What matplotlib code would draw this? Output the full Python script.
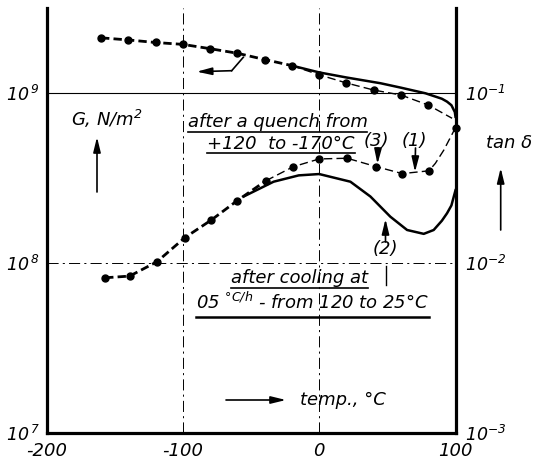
import numpy as np
import matplotlib
matplotlib.use('Agg')
import matplotlib.pyplot as plt
from matplotlib.lines import Line2D
from matplotlib.ticker import FixedLocator, NullLocator, FixedFormatter

plt.rcParams['font.family'] = ['DejaVu Sans']
plt.rcParams['font.style'] = 'italic'
plt.rcParams['mathtext.default'] = 'it'
plt.rcParams['lines.scale_dashes'] = False

# shear modulus G (N/m2), after quench (dots) - left axis
g_q_t = [-160, -140, -120, -100, -80, -60, -40, -20, 0, 20, 40, 60, 80, 97.5]
g_q = [2.12e9, 2.06e9, 1.99e9, 1.94e9, 1.83e9, 1.72e9, 1.58e9, 1.455e9,
       1.285e9, 1.15e9, 1.045e9, 9.77e8, 8.53e8, 7.13e8]
# G after slow cooling (solid)
g_c_t = [-20, 0, 20, 45, 60, 78, 90, 93.8, 97, 99.5, 100]
g_c = [1.455e9, 1.327e9, 1.239e9, 1.146e9, 1.079e9, 1.0e9, 9.29e8, 8.93e8,
       8.51e8, 7.76e8, 7.28e8]

# tan delta after quench (dots) - right axis
tq_t = [-157, -139, -119, -98.5, -79, -60, -39, -19, 0, 20.5, 42, 61, 80.5,
        85.2, 91.4, 100]
tq = [8.22e-3, 8.41e-3, 1.021e-2, 1.416e-2, 1.80e-2, 2.34e-2, 3.06e-2,
      3.70e-2, 4.11e-2, 4.15e-2, 3.70e-2, 3.37e-2, 3.50e-2, 3.87e-2,
      4.63e-2, 6.28e-2]
tq_dots = [0, 1, 2, 3, 4, 5, 6, 7, 8, 9, 10, 11, 12, 15]
# tan delta after slow cooling (solid)
tc_t = [-55, -33.4, -15, 0, 22.9, 37.6, 52.2, 64.5, 76.7, 84, 90, 93.8, 97, 100]
tc = [2.48e-2, 3.02e-2, 3.29e-2, 3.35e-2, 3.02e-2, 2.47e-2, 1.88e-2,
      1.57e-2, 1.49e-2, 1.57e-2, 1.78e-2, 1.97e-2, 2.19e-2, 2.69e-2]

W, H = 533, 461
fig = plt.figure(figsize=(W / 100, H / 100), dpi=100)
ax = fig.add_axes([46.5 / W, 1 - 433.3 / H, 409 / W, 425 / H])
ax2 = ax.twinx()

ax.set_xlim(-200, 100)
ax.set_yscale('log')
ax.set_ylim(1e7, 10 ** 9.5)
ax2.set_yscale('log')
ax2.set_ylim(1e-3, 10 ** -0.5)

for a in (ax, ax2):
    for s in a.spines.values():
        s.set_visible(False)
ax.spines['left'].set_visible(True)
ax.spines['bottom'].set_visible(True)
ax2.spines['right'].set_visible(True)
ax.spines['left'].set_linewidth(2.3)
ax.spines['bottom'].set_linewidth(2.3)
ax2.spines['right'].set_linewidth(2.3)

ax.xaxis.set_major_locator(FixedLocator([-200, -100, 0, 100]))
ax.xaxis.set_major_formatter(FixedFormatter(['-200', '-100', '0', '100']))
ax.yaxis.set_major_locator(FixedLocator([1e7, 1e8, 1e9]))
ax.yaxis.set_major_formatter(FixedFormatter([r'$10^{\,7}$', r'$10^{\,8}$', r'$10^{\,9}$']))
ax2.yaxis.set_major_locator(FixedLocator([1e-3, 1e-2, 1e-1]))
ax2.yaxis.set_major_formatter(FixedFormatter([r'$10^{-3}$', r'$10^{-2}$', r'$10^{-1}$']))
ax.yaxis.set_minor_locator(NullLocator())
ax2.yaxis.set_minor_locator(NullLocator())
ax.tick_params(axis='x', length=0, labelsize=13, pad=6)
ax.tick_params(axis='y', length=0, labelsize=12.5, pad=5)
ax2.tick_params(axis='y', length=0, labelsize=12.5, pad=7)

# reference lines
ax.axhline(1e9, color='k', lw=0.8, zorder=1)
ax.axhline(1e8, color='k', lw=0.7, ls=(0, (8, 3, 1.5, 3)), zorder=1)
ax.axvline(-100, color='k', lw=0.7, ls=(0, (8, 3, 1.5, 3)), zorder=1)
ax.axvline(0, color='k', lw=0.7, ls=(0, (8, 3, 1.5, 3)), zorder=1)

# G curves
ax.plot(g_q_t[:8], g_q[:8], color='k', lw=2.0, dashes=(6, 3))
ax.plot(g_q_t[7:], g_q[7:], color='k', lw=1.0, dashes=(6, 3))
ax.plot(g_q_t[:13], g_q[:13], 'o', color='k', ms=5)
ax.plot(g_c_t, g_c, color='k', lw=1.8)

# tan delta curves
ax2.plot(tq_t[:7], tq[:7], color='k', lw=2.0, dashes=(6, 3))
ax2.plot(tq_t[6:], tq[6:], color='k', lw=1.0, dashes=(6, 3))
ax2.plot([tq_t[i] for i in tq_dots], [tq[i] for i in tq_dots], 'o', color='k',
         ms=5, clip_on=False, zorder=5)
ax2.plot(tc_t, tc, color='k', lw=1.8)


def fp(x, y):
    return (x / W, 1 - y / H)


def label(s, x, y, under=None, lw=1.2, size=13):
    t = fig.text(*fp(x, y), s, ha='center', va='baseline', fontsize=size,
                 style='italic', zorder=6)
    if under is not None:
        fig.canvas.draw()
        bb = t.get_window_extent(renderer=fig.canvas.get_renderer())
        fig.add_artist(Line2D([bb.x0 / W, bb.x1 / W], [1 - under / H] * 2,
                              color='k', lw=lw, transform=fig.transFigure))
    return t


def arrow(x0, y0, x1, y1):
    ax.annotate('', xy=fp(x1, y1), xytext=fp(x0, y0),
                xycoords='figure fraction', textcoords='figure fraction',
                arrowprops=dict(arrowstyle='-|>,head_width=0.22,head_length=0.9',
                                color='k', lw=1.2, shrinkA=0, shrinkB=0))


label('after a quench from', 277.5, 127, under=131.5)
label('+120  to -170°C', 281, 148.5, under=153)
label('(3)', 376, 146)
label('(1)', 414, 146)
label(r'G, N/m$^2$', 107, 126)
label('tan δ', 509, 148)
label('(2)', 385, 254)
label('after cooling at', 299, 283, under=288)
label(r'05 $^{°C/h}$ - from 120 to 25°C', 312.5, 309, under=317, lw=1.8)
label('temp., °C', 343, 405)

arrow(97, 192, 97, 137)
arrow(500.7, 230, 500.7, 168)
arrow(226, 400, 286, 400)
arrow(378, 148, 377.5, 164)
arrow(415.5, 148, 415, 172)
arrow(385.5, 242, 385.5, 219)
fig.add_artist(Line2D([385.5 / W] * 2, [1 - 266 / H, 1 - 285 / H], color='k',
                      lw=1.0, transform=fig.transFigure))
fig.add_artist(Line2D([243.3 / W, 231.7 / W], [1 - 57.3 / H, 1 - 70.7 / H],
                      color='k', lw=1.2, transform=fig.transFigure))
arrow(231.7, 70.7, 196.7, 71.7)

fig.savefig('out.png', dpi=100)
